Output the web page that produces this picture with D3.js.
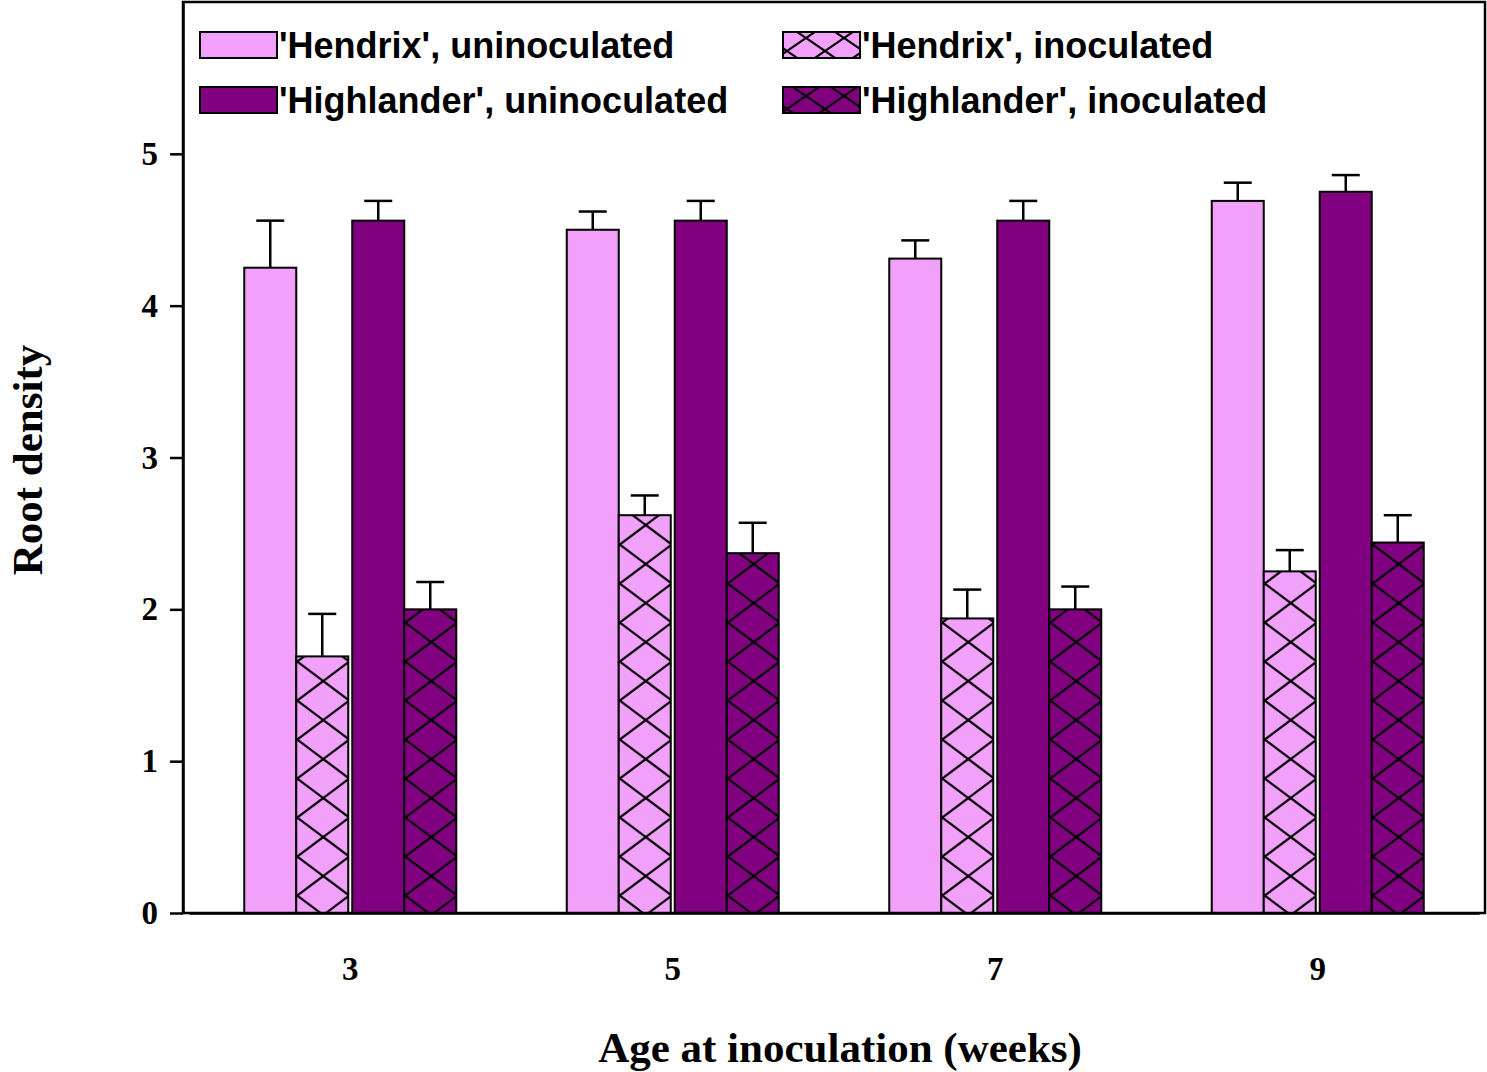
<!DOCTYPE html>
<html>
<head>
<meta charset="utf-8">
<script src="https://cdn.jsdelivr.net/npm/d3@7"></script>
<style>
  body { margin: 0; background: #fff; }
</style>
</head>
<body>
<svg id="chart"></svg>
<script>
// data
var ages = ["3", "5", "7", "9"];
var seriesNames = ["'Hendrix', uninoculated", "'Hendrix', inoculated",
                   "'Highlander', uninoculated", "'Highlander', inoculated"];
var hendrixUn = [4.25, 4.50, 4.31, 4.69];
var hendrixUnErr = [0.31, 0.12, 0.12, 0.12];
var hendrixIn = [1.69, 2.62, 1.94, 2.25];
var hendrixInErr = [0.28, 0.13, 0.19, 0.14];
var highlanderUn = [4.56, 4.56, 4.56, 4.75];
var highlanderUnErr = [0.13, 0.13, 0.13, 0.11];
var highlanderIn = [2.00, 2.37, 2.00, 2.44];
var highlanderInErr = [0.18, 0.20, 0.15, 0.18];
var yTicks = [0, 1, 2, 3, 4, 5];

var values = [hendrixUn, hendrixIn, highlanderUn, highlanderIn];
var errors = [hendrixUnErr, hendrixInErr, highlanderUnErr, highlanderInErr];
var fills = ["#f2a1fa", "#f2a1fa", "#800080", "#800080"];
var hatched = [false, true, false, true];

var svgWidth = 1487, svgHeight = 1072;
var margin = { top: 2, right: 2, bottom: 159, left: 183 };
var width = svgWidth - margin.left - margin.right;
var height = svgHeight - margin.top - margin.bottom;

var svg = d3.select("#chart")
  .attr("width", svgWidth)
  .attr("height", svgHeight);
var defs = svg.append("defs");

// cross-hatch pattern, anchored at (px, py)
function addHatch(id, color, px, py, pw, ph) {
  var p = defs.append("pattern")
    .attr("id", id)
    .attr("patternUnits", "userSpaceOnUse")
    .attr("x", px)
    .attr("y", py)
    .attr("width", pw)
    .attr("height", ph);
  p.append("rect").attr("width", pw).attr("height", ph).attr("fill", color);
  p.append("path")
    .attr("d", "M0,0L" + pw + "," + ph + "M" + pw + ",0L0," + ph)
    .attr("stroke", "#000")
    .attr("stroke-width", 2.2);
}

var rows = [];
ages.forEach(function (a, i) {
  values.forEach(function (v, s) {
    rows.push({ age: a, s: s, value: v[i], err: errors[s][i] });
  });
});

var g = svg.append("g")
  .attr("transform", "translate(" + margin.left + "," + margin.top + ")");

var x0 = d3.scaleBand().domain(ages).range([6, width - 6]).padding(0);
var x1 = d3.scaleBand().domain(d3.range(4)).range([-108, 108]);
var y = d3.scaleLinear().domain([0, 6]).range([height, 0]);

var barW = 52;
function barX(d) {
  // small gap between the two cultivars
  return x0(d.age) + x0.bandwidth() / 2 + x1(d.s) + (d.s % 2 === 0 ? 2 : 0);
}

rows.forEach(function (d, i) {
  d.id = "bar" + i;
  if (hatched[d.s]) {
    // pattern space is the svg root's, so add the margin
    addHatch(d.id, fills[d.s], barX(d) + margin.left, y(0) + margin.top, barW, 39);
  }
});

// error bars
var eb = g.append("g").selectAll("g")
  .data(rows)
  .enter().append("g")
  .attr("stroke", "#000")
  .attr("stroke-width", 2.5);
eb.append("line")
  .attr("x1", function (d) { return barX(d) + barW / 2; })
  .attr("x2", function (d) { return barX(d) + barW / 2; })
  .attr("y1", function (d) { return y(d.value); })
  .attr("y2", function (d) { return y(d.value + d.err); });
eb.append("line")
  .attr("x1", function (d) { return barX(d) + barW / 2 - 14; })
  .attr("x2", function (d) { return barX(d) + barW / 2 + 14; })
  .attr("y1", function (d) { return y(d.value + d.err); })
  .attr("y2", function (d) { return y(d.value + d.err); });

// bars
g.append("g").selectAll("rect")
  .data(rows)
  .enter().append("rect")
  .attr("x", barX)
  .attr("y", function (d) { return y(d.value); })
  .attr("width", barW)
  .attr("height", function (d) { return y(0) - y(d.value); })
  .attr("fill", function (d) { return hatched[d.s] ? "url(#" + d.id + ")" : fills[d.s]; })
  .attr("stroke", "#000")
  .attr("stroke-width", 2);

// frame
g.append("rect")
  .attr("width", width)
  .attr("height", height)
  .attr("fill", "none")
  .attr("stroke", "#000")
  .attr("stroke-width", 2.5);

// axes
var yAxis = g.append("g")
  .call(d3.axisLeft(y).tickValues(yTicks).tickFormat(d3.format("d"))
    .tickSize(13).tickPadding(12).tickSizeOuter(0));
yAxis.select(".domain").attr("stroke-width", 2.5);
yAxis.selectAll(".tick line").attr("stroke-width", 2.5);
yAxis.selectAll("text")
  .attr("font-family", "'Liberation Serif', 'Times New Roman', serif")
  .attr("font-weight", "bold")
  .attr("font-size", 33)
  .attr("fill", "#000");

var xAxis = g.append("g")
  .attr("transform", "translate(0," + height + ")")
  .call(d3.axisBottom(x0).tickSize(0).tickPadding(44).tickSizeOuter(0));
xAxis.select(".domain").attr("stroke-width", 2.5);
xAxis.selectAll("text")
  .attr("font-family", "'Liberation Serif', 'Times New Roman', serif")
  .attr("font-weight", "bold")
  .attr("font-size", 33)
  .attr("fill", "#000");

// axis titles
svg.append("text")
  .attr("x", 840)
  .attr("y", 1062)
  .attr("text-anchor", "middle")
  .attr("font-family", "'Liberation Serif', 'Times New Roman', serif")
  .attr("font-weight", "bold")
  .attr("font-size", 43)
  .text("Age at inoculation (weeks)");

svg.append("text")
  .attr("transform", "translate(42,460) rotate(-90)")
  .attr("text-anchor", "middle")
  .attr("font-family", "'Liberation Serif', 'Times New Roman', serif")
  .attr("font-weight", "bold")
  .attr("font-size", 43)
  .text("Root density");

// legend
var legendPos = seriesNames.map(function (d, i) {
  return { name: d, s: i, x: i % 2 === 0 ? 200 : 783, y: i < 2 ? 32 : 87 };
});
legendPos.forEach(function (d) {
  if (hatched[d.s]) addHatch("leg" + d.s, fills[d.s], d.x, d.y, 38, 26);
});
var legend = svg.append("g").selectAll("g")
  .data(legendPos)
  .enter().append("g")
  .attr("transform", function (d) { return "translate(" + d.x + "," + d.y + ")"; });
legend.append("rect")
  .attr("width", 77)
  .attr("height", 26)
  .attr("fill", function (d) { return hatched[d.s] ? "url(#leg" + d.s + ")" : fills[d.s]; })
  .attr("stroke", "#000")
  .attr("stroke-width", 2);
legend.append("text")
  .attr("x", 79)
  .attr("y", 26)
  .attr("font-family", "'Liberation Sans', Arial, sans-serif")
  .attr("font-weight", "bold")
  .attr("font-size", 36)
  .text(function (d) { return d.name; });
</script>
</body>
</html>
